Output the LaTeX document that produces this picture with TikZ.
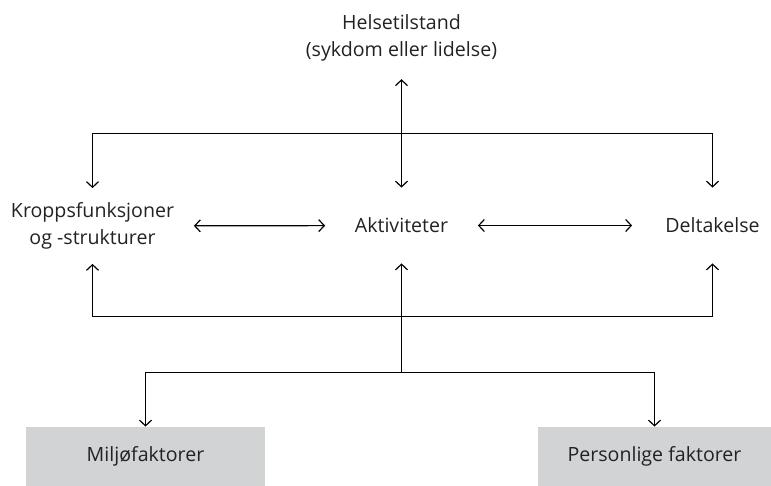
\documentclass[tikz,border=0pt]{standalone}
\usepackage{fontspec}
\setmainfont{Open Sans}
\usetikzlibrary{arrows.meta}

\definecolor{boksgraa}{HTML}{D1D3D4}
\definecolor{tekstgraa}{HTML}{222222}

\begin{document}
\begin{tikzpicture}[
        x=0.5pt, y=-0.5pt,
        >={Straight Barb[length=2.8pt, width=6pt]},
        every node/.style={text=tekstgraa, font=\fontsize{9.8}{13.5}\selectfont},
        ledd/.style={align=center, minimum height=37.5pt, inner sep=0pt},
        faktor/.style={fill=boksgraa, minimum height=29.5pt, inner sep=0pt},
        pil/.style={line width=0.6pt}
    ]
    \useasboundingbox (0,0) rectangle (771,486);

% Helsetilstand øverst
        \node[align=center, inner xsep=0pt, inner ysep=9pt] (helse) at (401.5,37.5)
            {Helsetilstand\\(sykdom eller lidelse)};

% Midtre rad
        \node[ledd, minimum width=101pt] (kropp) at (92.5,226) {Kroppsfunksjoner\\og -strukturer};
        \node[ledd, minimum width=76pt] (akt) at (401.5,225.5) {Aktiviteter};
        \node[ledd, minimum width=80pt] (delt) at (712.5,225.5) {Deltakelse};

% Kontekstuelle faktorer
        \node[faktor, minimum width=119.5pt] (miljo) at (145.5,456.5) {Miljøfaktorer};
        \node[faktor, minimum width=116.5pt] (pers) at (654.5,456.5) {Personlige faktorer};

% Knutepunkter
        \coordinate (topp) at (401.5,133.5);
        \coordinate (bunn) at (401.5,316.5);
        \coordinate (deling) at (401.5,372.5);

% Piler mellom helsetilstand og rad
        \draw[pil, <->] (helse) -- (akt);
        \draw[pil, ->] (topp) -| (kropp);
        \draw[pil, ->] (topp) -| (delt);

% Piler i raden
        \draw[pil, <->] (kropp) -- (akt);
        \draw[pil, <->] (akt) -- (delt);

% Piler fra faktorene
        \draw[pil, ->] (bunn) -- (akt);
        \draw[pil, ->] (bunn) -| (kropp);
        \draw[pil, ->] (bunn) -| (delt);
        \draw[pil] (bunn) -- (deling);
        \draw[pil, ->] (deling) -| (miljo);
        \draw[pil, ->] (deling) -| (pers);
    \end{tikzpicture}
\end{document}
